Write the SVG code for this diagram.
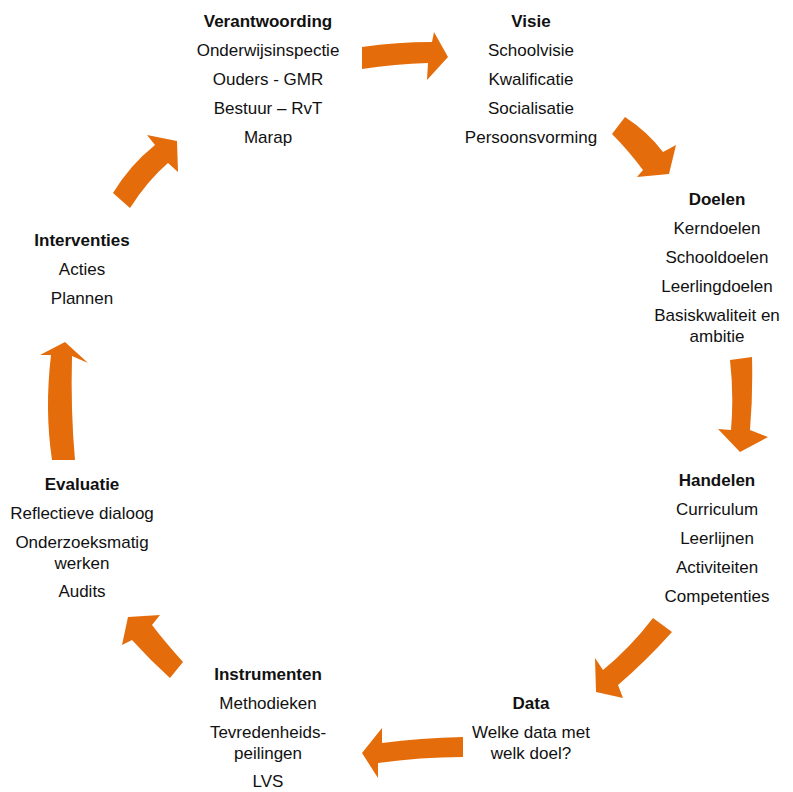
<svg xmlns="http://www.w3.org/2000/svg" width="793" height="792" viewBox="0 0 793 792">
<style>
text{font-family:"Liberation Sans",Arial,sans-serif;font-size:17px;fill:#111;text-anchor:middle}
.t{font-weight:bold}
.arr{fill:#E46C0A;stroke:none}
</style>
<rect width="793" height="792" fill="#fff"/>
<g id="connectors">
<path class="arr" d="M362,47 Q397,42 432,42 L434,32 L448,57 L427,80 L428,63 Q395,64 362,69 Z"/>
<path class="arr" d="M625,117 Q648,132 663,152 L676,145 L669,174 L637,177 L643,170 Q628,150 612,134 Z"/>
<path class="arr" d="M730,360 L752,357 Q753,395 750,430 L768,437 L740,452 L718,429 L731,430 Q734,395 730,360 Z"/>
<path class="arr" d="M672,632 Q645,662 618,685 L623,698 L596,692 L595,658 L603,670 Q630,648 653,618 Z"/>
<path class="arr" d="M463,737 L463,757 Q420,757 378,763 L378,778 L362,753 L382,728 L382,743 Q420,738 463,737 Z"/>
<path class="arr" d="M183,662 Q165,642 152,625 L160,615 L128,617 L122,645 L132,640 Q150,660 170,678 Z"/>
<path class="arr" d="M52,460 L75,460 Q70.5,410 72,356 L88,363 L65,342 L40,355 L51,355 Q44.5,410 52,460 Z"/>
<path class="arr" d="M113,193 Q130,165 155,145 L147,135 L177,141 L178,172 L168,163 Q148,180 130,208 Z"/>
</g>
<g id="verantwoording">
<text class="t" x="268" y="27">Verantwoording</text>
<text x="268" y="56">Onderwijsinspectie</text>
<text x="268" y="85">Ouders - GMR</text>
<text x="268" y="114">Bestuur – RvT</text>
<text x="268" y="143">Marap</text>
</g>
<g id="visie">
<text class="t" x="531" y="27">Visie</text>
<text x="531" y="56">Schoolvisie</text>
<text x="531" y="85">Kwalificatie</text>
<text x="531" y="114">Socialisatie</text>
<text x="531" y="143">Persoonsvorming</text>
</g>
<g id="doelen">
<text class="t" x="717" y="205">Doelen</text>
<text x="717" y="234">Kerndoelen</text>
<text x="717" y="263">Schooldoelen</text>
<text x="717" y="292">Leerlingdoelen</text>
<text x="717" y="321">Basiskwaliteit en</text>
<text x="717" y="342">ambitie</text>
</g>
<g id="handelen">
<text class="t" x="717" y="486">Handelen</text>
<text x="717" y="515">Curriculum</text>
<text x="717" y="544">Leerlijnen</text>
<text x="717" y="573">Activiteiten</text>
<text x="717" y="602">Competenties</text>
</g>
<g id="data">
<text class="t" x="531" y="709">Data</text>
<text x="531" y="738">Welke data met</text>
<text x="531" y="759">welk doel?</text>
</g>
<g id="instrumenten">
<text class="t" x="268" y="680">Instrumenten</text>
<text x="268" y="709">Methodieken</text>
<text x="268" y="738">Tevredenheids-</text>
<text x="268" y="759">peilingen</text>
<text x="268" y="787">LVS</text>
</g>
<g id="evaluatie">
<text class="t" x="82" y="490">Evaluatie</text>
<text x="82" y="519">Reflectieve dialoog</text>
<text x="82" y="548">Onderzoeksmatig</text>
<text x="82" y="569">werken</text>
<text x="82" y="597">Audits</text>
</g>
<g id="interventies">
<text class="t" x="82" y="246">Interventies</text>
<text x="82" y="275">Acties</text>
<text x="82" y="304">Plannen</text>
</g>
</svg>
